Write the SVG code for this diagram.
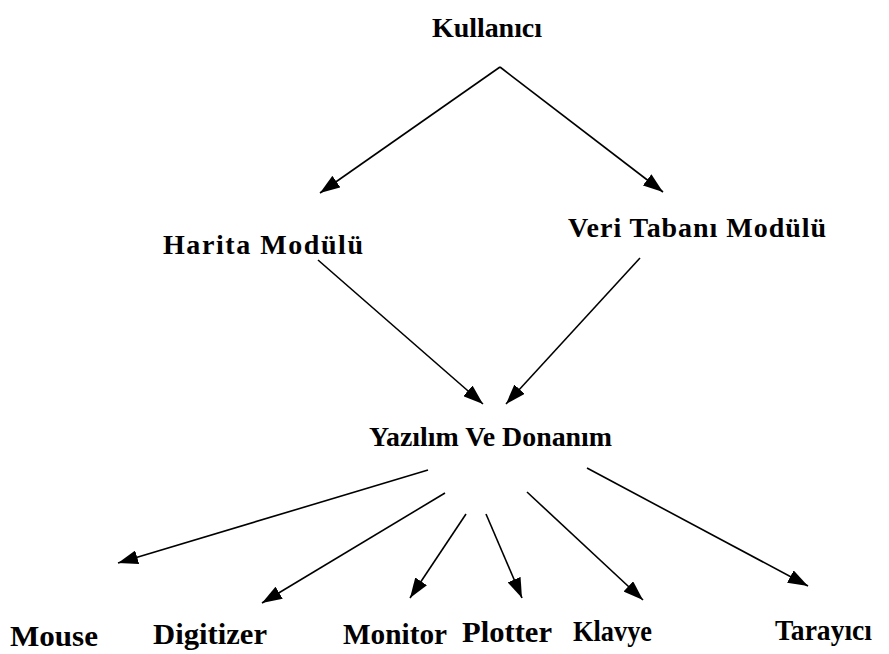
<svg xmlns="http://www.w3.org/2000/svg" width="889" height="654" viewBox="0 0 889 654">
<style>
.t{font-family:"Liberation Serif","Times New Roman",serif;font-weight:bold;font-size:28px;fill:#000}
.b{font-size:29px}
.c{stroke:#000;stroke-width:1.6;fill:none}
</style>
<defs>
<marker id="ah" viewBox="0 0 10 10" refX="10" refY="5" markerWidth="20" markerHeight="14" markerUnits="userSpaceOnUse" orient="auto" preserveAspectRatio="none">
<path d="M0,0 L10,5 L0,10 z" fill="#000"/>
</marker>
</defs>
<rect width="889" height="654" fill="#fff"/>
<g id="connectors">
<path class="c" d="M500,67 L320,193" marker-end="url(#ah)"/>
<path class="c" d="M500,67 L663,192" marker-end="url(#ah)"/>
<path class="c" d="M318,260 L483,404" marker-end="url(#ah)"/>
<path class="c" d="M640,258 L506,404" marker-end="url(#ah)"/>
<path class="c" d="M428,470 L118,563" marker-end="url(#ah)"/>
<path class="c" d="M445,493 L262,603" marker-end="url(#ah)"/>
<path class="c" d="M466,514 L410,598" marker-end="url(#ah)"/>
<path class="c" d="M486,514 L522,598" marker-end="url(#ah)"/>
<path class="c" d="M527,492 L643,600" marker-end="url(#ah)"/>
<path class="c" d="M587,468 L808,586" marker-end="url(#ah)"/>
</g>
<g id="kullanici"><text class="t" x="432" y="37" textLength="110" lengthAdjust="spacing">Kullanıcı</text></g>
<g id="harita"><text class="t" x="163" y="254" textLength="200" lengthAdjust="spacing">Harita Modülü</text></g>
<g id="veritabani"><text class="t" x="568" y="237" textLength="258" lengthAdjust="spacing">Veri Tabanı Modülü</text></g>
<g id="yazilim"><text class="t" x="369" y="446" textLength="243" lengthAdjust="spacingAndGlyphs">Yazılım Ve Donanım</text></g>
<g id="mouse"><text class="t b" x="10" y="646" textLength="88" lengthAdjust="spacingAndGlyphs">Mouse</text></g>
<g id="digitizer"><text class="t b" x="153" y="644" textLength="114" lengthAdjust="spacingAndGlyphs">Digitizer</text></g>
<g id="monitor"><text class="t b" x="343" y="644" textLength="104" lengthAdjust="spacingAndGlyphs">Monitor</text></g>
<g id="plotter"><text class="t b" x="462" y="642" textLength="90" lengthAdjust="spacingAndGlyphs">Plotter</text></g>
<g id="klavye"><text class="t b" x="573" y="641" textLength="79" lengthAdjust="spacingAndGlyphs">Klavye</text></g>
<g id="tarayici"><text class="t b" x="775" y="640" textLength="97" lengthAdjust="spacingAndGlyphs">Tarayıcı</text></g>
</svg>
